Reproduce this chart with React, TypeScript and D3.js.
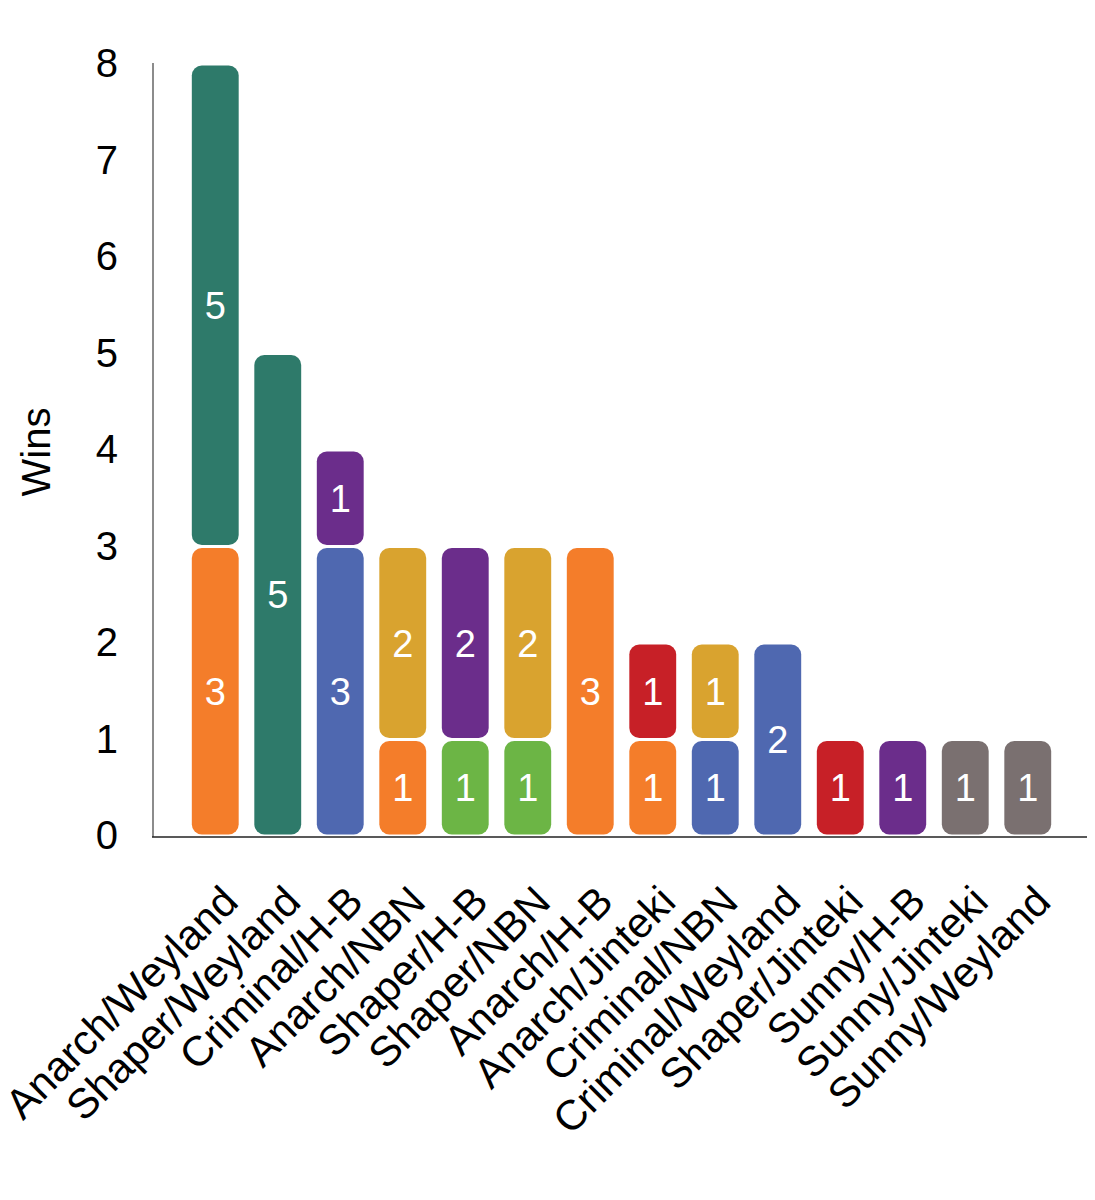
import { useEffect, useRef } from 'react';
import * as d3 from 'd3';

const categories = [
  'Anarch/Weyland', 'Shaper/Weyland', 'Criminal/H-B', 'Anarch/NBN', 'Shaper/H-B',
  'Shaper/NBN', 'Anarch/H-B', 'Anarch/Jinteki', 'Criminal/NBN', 'Criminal/Weyland',
  'Shaper/Jinteki', 'Sunny/H-B', 'Sunny/Jinteki', 'Sunny/Weyland',
];
// bottom segment = runner wins, top segment = corp wins
const runnerWins = [3, 0, 3, 1, 1, 1, 3, 1, 1, 2, 0, 0, 1, 1];
const corpWins = [5, 5, 1, 2, 2, 2, 0, 1, 1, 0, 1, 1, 0, 0];
const yTicks = [0, 1, 2, 3, 4, 5, 6, 7, 8];

const factionColors: Record<string, string> = {
  Anarch: '#F47D2A',
  Criminal: '#4F68B0',
  Shaper: '#6CB545',
  Sunny: '#7A7070',
  Weyland: '#2E7A6A',
  'H-B': '#6B2D8B',
  NBN: '#D9A32F',
  Jinteki: '#C72027',
};

const FONT = 'Liberation Sans, Arial, Helvetica, sans-serif';

export default function App() {
  const svgRef = useRef<SVGSVGElement>(null);

  useEffect(() => {
    if (!svgRef.current) return;
    const svg = d3.select(svgRef.current);
    svg.selectAll('*').remove();

    const rows = categories.map((c, i) => ({ cat: c, runner: runnerWins[i], corp: corpWins[i] }));

    const x = d3.scaleBand<string>()
      .domain(categories)
      .range([184, 1059])
      .paddingInner(0.25)
      .paddingOuter(0.125);

    const y = d3.scaleLinear().domain([0, 8]).range([836, 64]);

    const stacked = d3.stack<any>().keys(['runner', 'corp'])(rows);

    // axes lines
    svg.append('line')
      .attr('x1', 153).attr('x2', 153)
      .attr('y1', y(8) - 1).attr('y2', y(0) + 1)
      .attr('stroke', '#8c8c8c').attr('stroke-width', 2);
    svg.append('line')
      .attr('x1', 152).attr('x2', 1090)
      .attr('y1', y(0) + 1).attr('y2', y(0) + 1)
      .attr('stroke', '#222').attr('stroke-width', 1.5);

    // y tick labels
    svg.append('g')
      .selectAll('text')
      .data(yTicks)
      .join('text')
      .attr('x', 118)
      .attr('y', d => y(d))
      .attr('dy', '0.33em')
      .attr('text-anchor', 'end')
      .attr('font-family', FONT)
      .attr('font-size', 40)
      .attr('fill', '#000')
      .text(d => d);

    // y label
    svg.append('text')
      .attr('transform', `translate(50,452) rotate(-90)`)
      .attr('text-anchor', 'middle')
      .attr('font-family', FONT)
      .attr('font-size', 40)
      .attr('fill', '#000')
      .text('Wins');

    const inset = 1.5;
    stacked.forEach((layer, li) => {
      const g = svg.append('g');
      const segs = layer.map((d, i) => ({ d, i })).filter(s => s.d[1] - s.d[0] > 0);
      g.selectAll('rect')
        .data(segs)
        .join('rect')
        .attr('x', s => x(categories[s.i]) as number)
        .attr('width', x.bandwidth())
        .attr('y', s => y(s.d[1]) + inset)
        .attr('height', s => y(s.d[0]) - y(s.d[1]) - 2 * inset)
        .attr('rx', 10)
        .attr('fill', s => {
          const parts = categories[s.i].split('/');
          return factionColors[li === 0 ? parts[0] : parts[1]];
        });
      g.selectAll('text')
        .data(segs)
        .join('text')
        .attr('x', s => (x(categories[s.i]) as number) + x.bandwidth() / 2)
        .attr('y', s => (y(s.d[0]) + y(s.d[1])) / 2)
        .attr('dy', '0.36em')
        .attr('text-anchor', 'middle')
        .attr('font-family', FONT)
        .attr('font-size', 38)
        .attr('fill', '#fff')
        .text(s => s.d[1] - s.d[0]);
    });

    // x labels
    svg.append('g')
      .selectAll('text')
      .data(categories)
      .join('text')
      .attr('transform', d => `translate(${(x(d) as number) + x.bandwidth() / 2 + 25},${904}) rotate(-45)`)
      .attr('text-anchor', 'end')
      .attr('font-family', FONT)
      .attr('font-size', 42)
      .attr('fill', '#000')
      .text(d => d);
  }, []);

  return (
    <svg ref={svgRef} width={1095} height={1200} style={{ display: 'block', margin: '-8px', background: '#fff' }} />
  );
}
